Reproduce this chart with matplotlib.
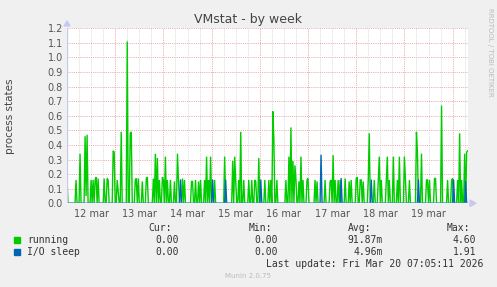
import numpy as np
import matplotlib
matplotlib.use("Agg")
import matplotlib.pyplot as plt
from matplotlib.ticker import MultipleLocator

# ---- data (30-minute samples since Mar 12 00:00; unlisted samples are 0) ----
n_samples = 401
running_idx = [0, 9, 13, 18, 19, 20, 24, 26, 28, 29, 31, 37, 40, 41, 46, 47, 50, 51, 54, 60,
               63, 64, 68, 69, 71, 75, 79, 80, 86, 88, 90, 92, 95, 96, 98, 100, 103, 107, 110,
               111, 115, 117, 124, 125, 128, 131, 133, 137, 139, 141, 143, 147, 157, 165, 167,
               168, 171, 173, 176, 181, 184, 187, 188, 191, 197, 201, 203, 205, 206, 209, 218,
               221, 223, 225, 227, 228, 231, 233, 235, 239, 240, 247, 249, 257, 262, 263, 265,
               267, 270, 272, 277, 281, 283, 288, 289, 292, 293, 295, 300, 301, 306, 310, 311,
               313, 318, 319, 321, 325, 329, 331, 336, 337, 341, 348, 349, 353, 358, 359, 361,
               366, 367, 373, 379, 383, 384, 389, 391, 393, 396, 398, 399]
running_val = [0.17, 0.16, 0.34, 0.46, 0.05, 0.47, 0.16, 0.16, 0.16, 0.18, 0.17, 0.17, 0.17, 0.16,
               0.36, 0.35, 0.16, 0.08, 0.49, 1.11, 0.48, 0.49, 0.16, 0.17, 0.17, 0.15, 0.17, 0.18,
               0.17, 0.34, 0.31, 0.16, 0.18, 0.16, 0.32, 0.16, 0.16, 0.15, 0.34, 0.16, 0.17, 0.16,
               0.15, 0.15, 0.16, 0.15, 0.16, 0.16, 0.32, 0.16, 0.32, 0.16, 0.32, 0.29, 0.32, 0.15,
               0.16, 0.49, 0.16, 0.16, 0.16, 0.16, 0.15, 0.31, 0.16, 0.16, 0.16, 0.63, 0.44, 0.16,
               0.16, 0.32, 0.52, 0.29, 0.26, 0.16, 0.15, 0.32, 0.16, 0.16, 0.17, 0.16, 0.15, 0.16,
               0.15, 0.16, 0.33, 0.16, 0.16, 0.16, 0.17, 0.15, 0.16, 0.17, 0.18, 0.16, 0.16, 0.15,
               0.16, 0.48, 0.16, 0.16, 0.32, 0.16, 0.16, 0.32, 0.16, 0.32, 0.16, 0.32, 0.32, 0.17,
               0.16, 0.49, 0.35, 0.34, 0.16, 0.16, 0.16, 0.17, 0.17, 0.67, 0.16, 0.16, 0.17, 0.16,
               0.48, 0.16, 0.34, 0.35, 0.36]
iosleep_idx = [113, 145, 158, 193, 253, 273, 303, 350, 385, 397]
iosleep_val = [0.16, 0.16, 0.16, 0.16, 0.33, 0.17, 0.16, 0.16, 0.16, 0.15]

day_labels = ["12 mar", "13 mar", "14 mar", "15 mar", "16 mar", "17 mar", "18 mar", "19 mar"]
legend_names = ["running", "I/O sleep"]
legend_cur = ["0.00", "0.00"]
legend_min = ["0.00", "0.00"]
legend_avg = ["91.87m", "4.96m"]
legend_max = ["4.60", "1.91"]
last_update = "Last update: Fri Mar 20 07:05:11 2026"

# ---- build series ----
t = np.arange(n_samples) / 48.0  # days
running = np.zeros(n_samples)
running[running_idx] = running_val
iosleep = np.zeros(n_samples)
iosleep[iosleep_idx] = iosleep_val
end = 400
t = t[:end]; running = running[:end]; iosleep = iosleep[:end]

W, H = 497, 287
fig = plt.figure(figsize=(W / 100, H / 100), dpi=100)
fig.patch.set_facecolor("#f0f0f0")

x0, x1, ytop, ybot = 67, 468, 28.3, 203.3
ax = fig.add_axes([x0 / W, 1 - ybot / H, (x1 - x0) / W, (ybot - ytop) / H])
ax.set_facecolor("white")
ax.set_xlim(0, (x1 - x0) / 48.2)
ax.set_ylim(0, 1.2)

# grid
for d in np.arange(0, 9, 0.25):
    if d > ax.get_xlim()[1]:
        break
    major = abs(d - round(d)) < 1e-9
    ax.axvline(d, color="#e8a8a8" if major else "#d8d8d8", lw=0.7,
               ls=(0, (1, 1.2)), zorder=1)
for v in np.arange(0.1, 1.25, 0.1):
    ax.axhline(v, color="#e8a8a8", lw=0.7, ls=(0, (1, 1.2)), zorder=1)

ax.plot(t, running, color="#00cc00", lw=1.0, zorder=3, solid_joinstyle="miter")
ax.plot(t, iosleep, color="#0066b3", lw=1.0, zorder=4)

for s in ax.spines.values():
    s.set_visible(False)
ax.axvline(0, color="#c8c8f0", lw=1.0, zorder=5)
ax.axhline(0, color="#c8c8f0", lw=1.0, zorder=5)

ax.yaxis.set_major_locator(MultipleLocator(0.1))
ax.set_yticks(np.arange(0, 1.21, 0.1))
ax.set_yticklabels([f"{v:.1f}" for v in np.arange(0, 1.21, 0.1)])
ax.set_xticks(np.arange(len(day_labels)) + 0.5)
ax.set_xticklabels(day_labels)
ax.tick_params(axis="both", length=0, labelsize=7, colors="#555555", pad=3)
ax.tick_params(axis="x", pad=4)

# arrows
fig.patches.append(plt.Polygon([[ (x0 - 3) / W, 1 - 26 / H], [(x0 + 3) / W, 1 - 26 / H],
                                [x0 / W, 1 - 21 / H]], closed=True, transform=fig.transFigure,
                               color="#c8c8f0", figure=fig))
fig.patches.append(plt.Polygon([[470 / W, 1 - 200 / H], [470 / W, 1 - 206.5 / H],
                                [476 / W, 1 - 203.3 / H]], closed=True, transform=fig.transFigure,
                               color="#c8c8f0", figure=fig))

# texts
fig.text(248 / W, 1 - 19 / H, "VMstat - by week", ha="center", va="center",
         fontsize=9, color="#444444")
fig.text(10 / W, 1 - 116 / H, "process states", rotation=90, ha="center", va="center",
         fontsize=7.5, color="#444444")
fig.text(490 / W, 1 - 8 / H, "RRDTOOL / TOBI OETIKER", rotation=270, ha="center", va="top",
         fontsize=5, color="#bbbbbb")

mono = "DejaVu Sans Mono"
fs = 7
col = "#333333"
yh = 1 - 228 / H
for txt, xr in zip(["Cur:", "Min:", "Avg:", "Max:"], [172, 272, 371, 470]):
    fig.text(xr / W, yh, txt, ha="right", va="center", family=mono, fontsize=fs, color=col)
colors = ["#00cc00", "#0066b3"]
for i, name in enumerate(legend_names):
    yy = 1 - (240 + 12 * i) / H
    fig.patches.append(plt.Rectangle((14 / W, yy - 3 / H), 6 / W, 6 / H,
                                     transform=fig.transFigure, color=colors[i], figure=fig))
    fig.text(27 / W, yy, name, ha="left", va="center", family=mono, fontsize=fs, color=col)
    for vals, xr in zip([legend_cur, legend_min, legend_avg, legend_max], [179, 278, 383, 476]):
        fig.text(xr / W, yy, vals[i], ha="right", va="center", family=mono, fontsize=fs, color=col)
fig.text(483 / W, 1 - 264 / H, last_update, ha="right", va="center", family=mono,
         fontsize=fs, color=col)
fig.text(248 / W, 1 - 276 / H, "Munin 2.0.75", ha="center", va="center", fontsize=5,
         color="#bbbbbb")

fig.savefig("out.png", dpi=100, facecolor=fig.get_facecolor())
